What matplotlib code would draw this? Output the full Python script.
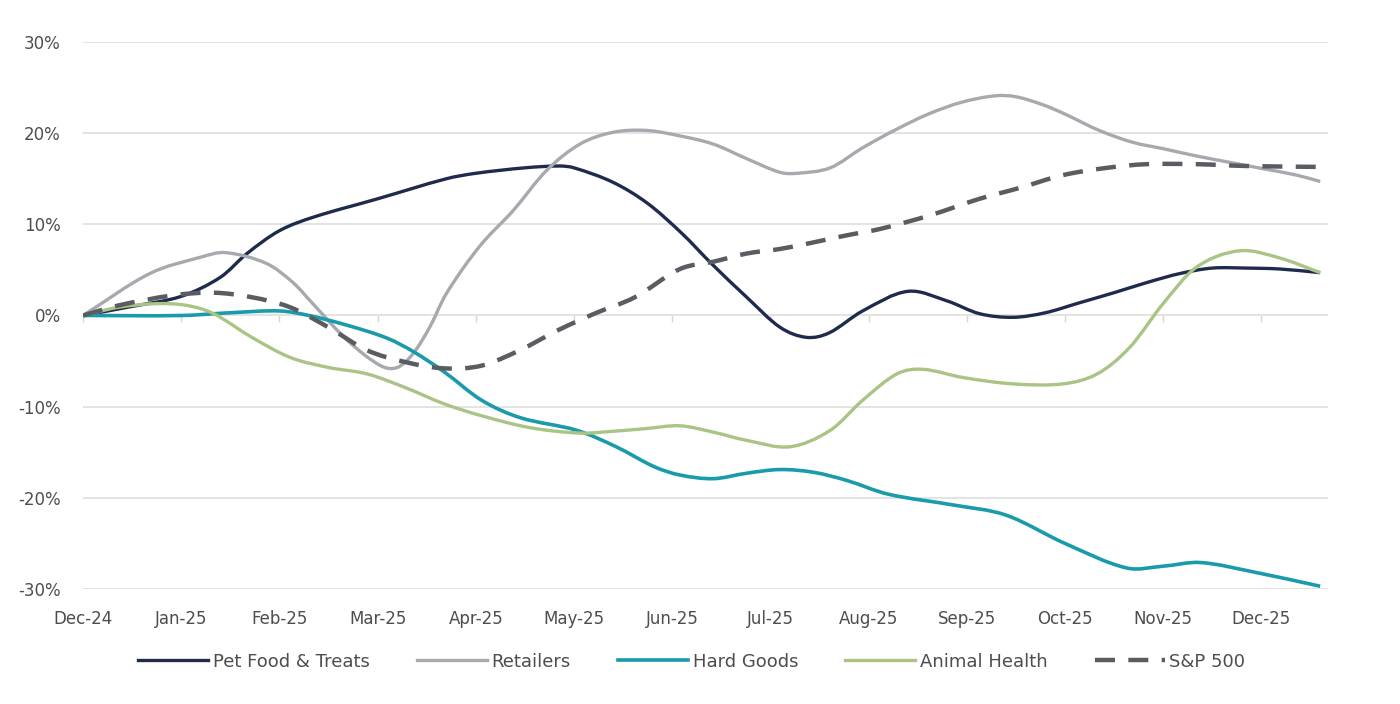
import numpy as np
import matplotlib
matplotlib.use("Agg")
import matplotlib.pyplot as plt
from matplotlib.path import Path
from matplotlib.patches import PathPatch
from matplotlib.lines import Line2D

# x positions are in months after Dec-24 (0 = Dec-24, 12 = Dec-25)
months = ['Dec-24', 'Jan-25', 'Feb-25', 'Mar-25', 'Apr-25', 'May-25', 'Jun-25',
          'Jul-25', 'Aug-25', 'Sep-25', 'Oct-25', 'Nov-25', 'Dec-25']

pet_x = [0, 0.5, 1.0, 1.4, 1.67, 2.0, 2.35, 3.0, 3.7, 4.0, 4.5, 4.85, 5.0, 5.4, 5.75, 6.1,
         6.4, 6.76, 7.1, 7.37, 7.6, 7.94, 8.4, 8.8, 9.13, 9.47, 9.8, 10.15, 10.5, 10.83,
         11.17, 11.5, 11.85, 12.19, 12.6]
pet_y = [0, 1.0, 2.1, 4.2, 6.8, 9.3, 10.8, 12.8, 15.0, 15.6, 16.2, 16.4, 16.2, 14.6, 12.3, 9.0,
         5.7, 2.0, -1.3, -2.4, -1.9, 0.5, 2.65, 1.6, 0.2, -0.2, 0.3, 1.4, 2.5, 3.6,
         4.6, 5.2, 5.2, 5.1, 4.7]

ret_x = [0, 0.68, 1.2, 1.45, 1.87, 2.14, 2.34, 2.69, 3.03, 3.2, 3.36, 3.53, 3.7, 4.04, 4.38,
         4.72, 5.06, 5.4, 5.74, 6.08, 6.42, 6.76, 7.1, 7.27, 7.61, 7.94, 8.28, 8.61, 8.95,
         9.29, 9.5, 9.78, 10.0, 10.35, 10.69, 11.0, 11.34, 11.68, 12.02, 12.36, 12.6]
ret_y = [0, 4.6, 6.4, 6.9, 5.7, 3.6, 1.3, -2.7, -5.5, -5.7, -4.2, -1.3, 2.4, 7.6, 11.5,
         15.9, 18.8, 20.1, 20.3, 19.7, 18.8, 17.2, 15.7, 15.6, 16.2, 18.4, 20.4, 22.1, 23.4,
         24.1, 24.0, 23.1, 22.1, 20.3, 19.0, 18.3, 17.5, 16.8, 16.1, 15.4, 14.7]

hg_x = [0, 1.0, 1.5, 2.0, 2.3, 2.7, 3.1, 3.37, 3.68, 4.06, 4.45, 5.03, 5.43, 5.82, 6.08,
        6.42, 6.76, 7.1, 7.44, 7.78, 8.2, 8.87, 9.4, 10.0, 10.63, 11.0, 11.38, 11.95, 12.6]
hg_y = [0, 0, 0.3, 0.5, 0, -1.1, -2.5, -4.0, -6.2, -9.3, -11.2, -12.6, -14.4, -16.6, -17.5,
        -17.9, -17.3, -16.9, -17.2, -18.1, -19.6, -20.8, -21.9, -25.0, -27.7, -27.5, -27.1,
        -28.2, -29.7]

ah_x = [0, 0.36, 0.75, 1.06, 1.33, 1.72, 2.11, 2.5, 2.89, 3.28, 3.68, 4.06, 4.55, 5.06, 5.4,
        5.74, 6.08, 6.42, 6.76, 7.2, 7.61, 7.94, 8.29, 8.55, 8.96, 9.47, 9.98, 10.33, 10.66,
        11.0, 11.34, 11.78, 12.19, 12.6]
ah_y = [0, 0.9, 1.3, 1.1, 0.2, -2.4, -4.6, -5.7, -6.4, -7.9, -9.7, -11.0, -12.3, -12.9, -12.7,
        -12.4, -12.1, -12.8, -13.7, -14.4, -12.6, -9.3, -6.4, -5.9, -6.8, -7.5, -7.5, -6.4, -3.5,
        1.3, 5.3, 7.1, 6.3, 4.7]

sp_x = [0, 0.36, 0.91, 1.33, 1.72, 2.11, 2.5, 2.89, 3.28, 3.68, 4.06, 4.45, 4.84, 5.23, 5.62,
        6.08, 6.42, 6.76, 7.1, 7.43, 7.78, 8.12, 8.63, 9.13, 9.54, 9.98, 10.43, 10.83, 11.34,
        11.85, 12.6]
sp_y = [0, 1.1, 2.2, 2.5, 2.0, 0.9, -1.3, -3.8, -5.1, -5.8, -5.5, -3.8, -1.6, 0.3, 2.0,
        5.1, 5.9, 6.8, 7.3, 8.0, 8.8, 9.5, 11.0, 12.8, 14.0, 15.4, 16.2, 16.6, 16.6,
        16.4, 16.3]

yticks = [-30, -20, -10, 0, 10, 20, 30]


def smooth_path(xs, ys):
    # smoothed line like excel: bezier segments through every data point
    xs = np.asarray(xs, float)
    ys = np.asarray(ys, float)
    n = len(xs)
    m = np.zeros(n)
    m[0] = (ys[1] - ys[0]) / (xs[1] - xs[0])
    m[-1] = (ys[-1] - ys[-2]) / (xs[-1] - xs[-2])
    m[1:-1] = (ys[2:] - ys[:-2]) / (xs[2:] - xs[:-2])
    verts = [(xs[0], ys[0])]
    codes = [Path.MOVETO]
    for i in range(n - 1):
        h = xs[i + 1] - xs[i]
        verts += [(xs[i] + h / 3, ys[i] + m[i] * h / 3),
                  (xs[i + 1] - h / 3, ys[i + 1] - m[i + 1] * h / 3),
                  (xs[i + 1], ys[i + 1])]
        codes += [Path.CURVE4] * 3
    return Path(verts, codes)


fig = plt.figure(figsize=(14, 7.04), dpi=100)
ax = fig.add_axes([0.0593, 0.1634, 0.8893, 0.7769])

series = [
    ('Pet Food & Treats', pet_x, pet_y, '#1f2b4d', '-', 2.4),
    ('Retailers', ret_x, ret_y, '#a6aaae', '-', 2.4),
    ('Hard Goods', hg_x, hg_y, '#1a9bac', '-', 2.6),
    ('Animal Health', ah_x, ah_y, '#a9c485', '-', 2.4),
    ('S&P 500', sp_x, sp_y, '#595d62', (0, (4.5, 3)), 3.2),
]

handles = []
for i, (name, xs, ys, col, ls, lw) in enumerate(series):
    patch = PathPatch(smooth_path(xs, ys), facecolor='none', edgecolor=col,
                      lw=lw, linestyle=ls, joinstyle='round', capstyle='butt', zorder=3 + i)
    ax.add_patch(patch)
    handles.append(Line2D([], [], color=col, lw=lw, linestyle=ls, label=name))

ax.set_xlim(0, 12.68)
ax.set_ylim(-30, 30)
ax.set_yticks(yticks)
ax.set_yticklabels([f'{v}%' for v in yticks])
ax.set_xticks(range(len(months)))
ax.set_xticklabels(months)

for s in ax.spines.values():
    s.set_visible(False)
ax.grid(axis='y', color='#e3e3e3', lw=1.4)
ax.set_axisbelow(True)
ax.tick_params(axis='y', length=0, pad=16, labelsize=12, labelcolor='#4d4d4d')
ax.tick_params(axis='x', length=0, pad=15, labelsize=12, labelcolor='#4d4d4d')

# tick marks sit on the 0% line, pointing down
zero_ax = ax.secondary_xaxis(0.5)
zero_ax.set_xticks(range(len(months)))
zero_ax.set_xticklabels([])
zero_ax.tick_params(axis='x', length=5, width=1, color='#d6d6d6', direction='in',
                    labeltop=False, labelbottom=False)
for s in zero_ax.spines.values():
    s.set_visible(False)

fig.legend(handles=handles, loc='center', bbox_to_anchor=(0.494, 0.06), ncol=5,
           frameon=False, fontsize=13, handlelength=3.9, handletextpad=0.25,
           columnspacing=2.6, labelcolor='#4d4d4d')

fig.savefig('out.png', dpi=100, facecolor='white')
